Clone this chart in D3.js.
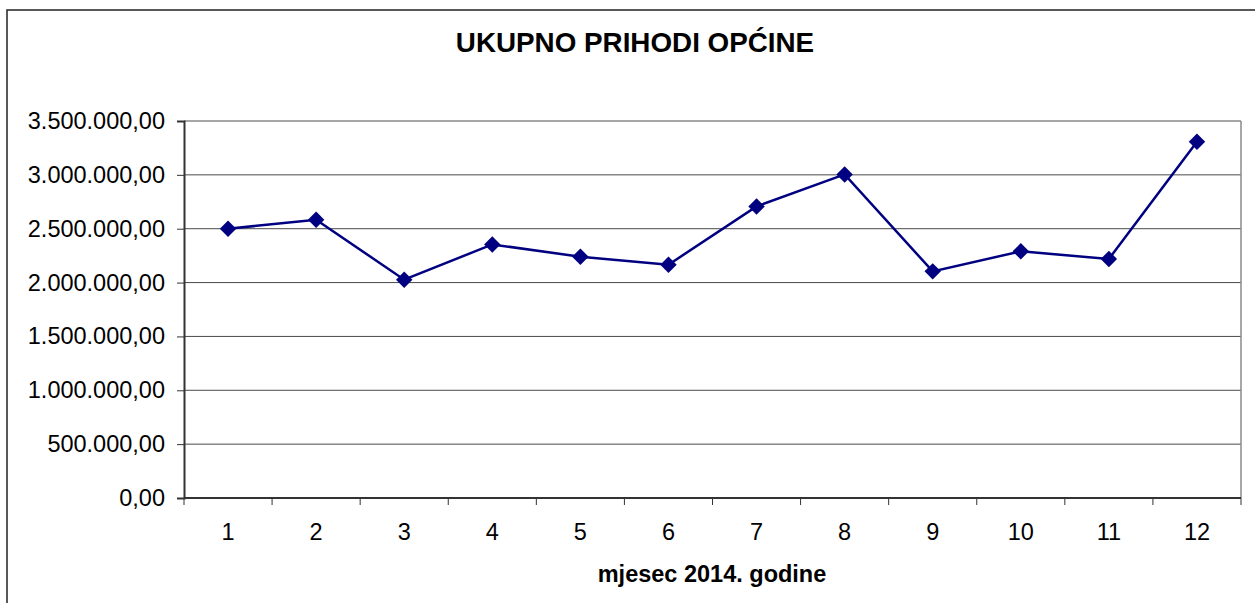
<!DOCTYPE html>
<html>
<head>
<meta charset="utf-8">
<script src="https://cdn.jsdelivr.net/npm/d3@7"></script>
<style>
  body { margin: 0; background: #fff; }
  text { font-family: "Liberation Sans", Arial, sans-serif; fill: #000; }
</style>
</head>
<body>
<svg id="chart"></svg>
<script>
// month numbers and municipal revenue
const months = ["1", "2", "3", "4", "5", "6", "7", "8", "9", "10", "11", "12"];
const revenue = [2500000, 2583000, 2027000, 2354000, 2240000, 2166000, 2707000, 3004000, 2104000, 2290000, 2219000, 3307000];
const yTicks = [0, 500000, 1000000, 1500000, 2000000, 2500000, 3000000, 3500000];

const chartTitle = "UKUPNO PRIHODI OPĆINE";
const xTitle = "mjesec 2014. godine";

const W = 1255, H = 603;
const margin = { top: 121, right: 14, bottom: 105, left: 184 };
const width = W - margin.left - margin.right;
const height = H - margin.top - margin.bottom;

const svg = d3.select("#chart")
  .attr("width", W)
  .attr("height", H);

// outer chart border
svg.append("rect")
  .attr("x", 7).attr("y", 10)
  .attr("width", W + 20).attr("height", H + 20)
  .attr("fill", "none")
  .attr("stroke", "#222")
  .attr("stroke-width", 1.5);

// title
svg.append("text")
  .attr("x", 635)
  .attr("y", 52)
  .attr("text-anchor", "middle")
  .style("font-size", "27.8px")
  .style("font-weight", "bold")
  .text(chartTitle);

const g = svg.append("g")
  .attr("transform", "translate(" + margin.left + "," + margin.top + ")");

const x = d3.scaleBand()
  .domain(months)
  .range([0, width]);

const y = d3.scaleLinear()
  .domain([0, 3500000])
  .range([height, 0]);

const fmt = d3.formatLocale({ decimal: ",", thousands: ".", grouping: [3], currency: ["", ""] }).format(",.2f");

// gridlines
g.append("g")
  .selectAll("line")
  .data(yTicks.filter(d => d > 0))
  .enter().append("line")
  .attr("x1", 0).attr("x2", width)
  .attr("y1", d => y(d)).attr("y2", d => y(d))
  .attr("stroke", d => d === 3500000 ? "#8a8a8a" : "#4a4a4a")
  .attr("stroke-width", d => d === 3500000 ? 1.5 : 1);

// right plot border
g.append("line")
  .attr("x1", width).attr("x2", width)
  .attr("y1", 0).attr("y2", height)
  .attr("stroke", "#8a8a8a")
  .attr("stroke-width", 1.5);

// y axis
const yAxis = g.append("g")
  .call(d3.axisLeft(y).tickValues(yTicks).tickFormat(fmt).tickSize(7).tickPadding(12));
yAxis.select(".domain").attr("stroke", "#333").attr("stroke-width", 2);
yAxis.selectAll(".tick line").attr("stroke", "#333");
yAxis.selectAll("text")
  .style("font-size", "23.5px")
  .style("font-family", "'Liberation Sans', Arial, sans-serif")
  .attr("fill", "#000");

// x axis: ticks sit on category boundaries
const xAxis = g.append("g")
  .attr("transform", "translate(0," + height + ")");
xAxis.append("line")
  .attr("x1", 0).attr("x2", width)
  .attr("stroke", "#333").attr("stroke-width", 2);
xAxis.selectAll(".xtick")
  .data(months)
  .enter().append("line")
  .attr("class", "xtick")
  .attr("x1", d => x(d)).attr("x2", d => x(d))
  .attr("y1", 0).attr("y2", 7)
  .attr("stroke", "#333");
xAxis.append("line")
  .attr("x1", width).attr("x2", width)
  .attr("y1", 0).attr("y2", 7)
  .attr("stroke", "#333");
xAxis.selectAll(".xlabel")
  .data(months)
  .enter().append("text")
  .attr("class", "xlabel")
  .attr("x", d => x(d) + x.bandwidth() / 2)
  .attr("y", 42)
  .attr("text-anchor", "middle")
  .style("font-size", "23.5px")
  .text(d => d);

// x axis title
svg.append("text")
  .attr("x", 712)
  .attr("y", 582)
  .attr("text-anchor", "middle")
  .style("font-size", "23.5px")
  .style("font-weight", "bold")
  .text(xTitle);

// line
const data = months.map((m, i) => ({ month: m, value: revenue[i] }));
const line = d3.line()
  .x(d => x(d.month) + x.bandwidth() / 2)
  .y(d => y(d.value));

g.append("path")
  .datum(data)
  .attr("fill", "none")
  .attr("stroke", "#000080")
  .attr("stroke-width", 2.5)
  .attr("d", line);

// diamond markers
g.selectAll(".marker")
  .data(data)
  .enter().append("path")
  .attr("class", "marker")
  .attr("d", d3.symbol(d3.symbolSquare, 135))
  .attr("transform", d => "translate(" + (x(d.month) + x.bandwidth() / 2) + "," + y(d.value) + ") rotate(45)")
  .attr("fill", "#000080");
</script>
</body>
</html>
